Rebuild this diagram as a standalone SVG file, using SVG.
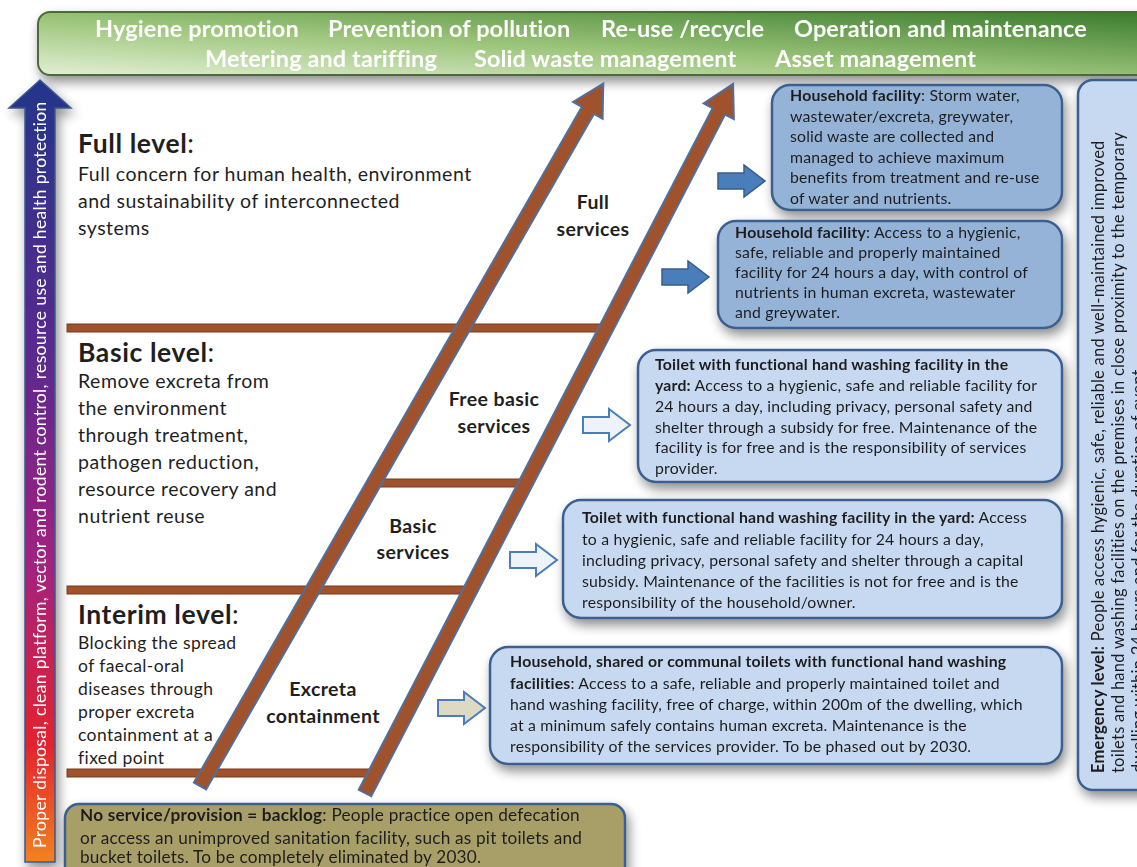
<svg xmlns="http://www.w3.org/2000/svg" width="1137" height="867" viewBox="0 0 1137 867">
<defs>
<style>
text{font-family:Lato,"Liberation Sans",sans-serif;fill:#1f1f1f}
.ban{font-size:23.5px;font-weight:700;fill:#ffffff;letter-spacing:0.1px}
.lvh{font-size:26.5px;font-weight:700;letter-spacing:0.6px}
.lvt{font-size:19.5px;letter-spacing:0.5px}
.lvs{font-size:17.5px;letter-spacing:0.4px}
.svc{font-size:19.5px;font-weight:700;text-anchor:middle;letter-spacing:0.4px}
.bx{font-size:15.8px;letter-spacing:0.2px}
.em{font-size:16.5px;letter-spacing:0.25px}
.bl{font-size:17.2px;letter-spacing:0.2px}
.b{font-weight:700}
.rung{fill:#a0522d;stroke:#7a3a1c;stroke-width:1}
.rail{fill:#a0522d;stroke:#4f6f9c;stroke-width:2}
.boxD{fill:#95b3d7;stroke:#3a5f8f;stroke-width:2.5}
.boxL{fill:#c6d9f0;stroke:#3a5f8f;stroke-width:2.5}
.arD{fill:#4a7ebb;stroke:#385d8a;stroke-width:1.5}
.arL{fill:#eef3fa;stroke:#4a7ebb;stroke-width:2}
.arT{fill:#ddd9c3;stroke:#4a7ebb;stroke-width:2}
</style>
<linearGradient id="gBan" x1="0" y1="1" x2="1" y2="0">
<stop offset="0" stop-color="#e2efd3"/>
<stop offset="0.45" stop-color="#9cc57b"/>
<stop offset="1" stop-color="#3a7b2c"/>
</linearGradient>
<linearGradient id="gArr" x1="0" y1="0" x2="0" y2="1">
<stop offset="0" stop-color="#23358a"/>
<stop offset="0.35" stop-color="#5a2a8e"/>
<stop offset="0.62" stop-color="#a3217f"/>
<stop offset="0.85" stop-color="#e3232e"/>
<stop offset="1" stop-color="#f2821f"/>
</linearGradient>
<filter id="sh" x="-20%" y="-20%" width="140%" height="150%">
<feGaussianBlur in="SourceAlpha" stdDeviation="6"/>
<feOffset dx="3" dy="6" result="o"/>
<feComponentTransfer><feFuncA type="linear" slope="0.45"/></feComponentTransfer>
<feMerge><feMergeNode/><feMergeNode in="SourceGraphic"/></feMerge>
</filter>
<polygon id="blk" points="0,-8 26,-8 26,-16 47,0 26,16 26,8 0,8"/>
</defs>
<rect width="1137" height="867" fill="#ffffff"/>

<g id="banner" filter="url(#sh)">
<rect x="38" y="12" width="1112" height="63" rx="12" fill="url(#gBan)" stroke="#4d6b3c" stroke-width="2"/>
<text class="ban" x="95" y="37">Hygiene promotion</text>
<text class="ban" x="328" y="37">Prevention of pollution</text>
<text class="ban" x="601" y="37">Re-use /recycle</text>
<text class="ban" x="794" y="37">Operation and maintenance</text>
<text class="ban" x="205" y="67">Metering and tariffing</text>
<text class="ban" x="474" y="67">Solid waste management</text>
<text class="ban" x="775" y="67">Asset management</text>
</g>

<g id="left-arrow" filter="url(#sh)">
<polygon points="40,80 71,108 55,108 55,862 25,862 25,108 9,108" fill="url(#gArr)" stroke="#3a5a8a" stroke-width="1.5"/>
<text transform="translate(46,848) rotate(-90)" style="font-size:17.5px;letter-spacing:0.35px;fill:#ffffff">Proper disposal, clean platform, vector and rodent control, resource use and health protection</text>
</g>

<g id="emergency" filter="url(#sh)">
<rect x="1078" y="80" width="80" height="710" rx="15" class="boxL"/>
<text class="em" transform="translate(1104,773) rotate(-90)"><tspan class="b">Emergency level:</tspan> People access hygienic, safe, reliable and well-maintained improved</text>
<text class="em" transform="translate(1124,773) rotate(-90)">toilets and hand washing facilities on the premises in close proximity to the temporary</text>
<text class="em" transform="translate(1144,773) rotate(-90)">dwelling within 24 hours and for the duration of event.</text>
</g>

<g id="levels">
<text class="lvh" x="78" y="153">Full level<tspan style="font-weight:400">:</tspan></text>
<text class="lvt" x="78" y="181">Full concern for human health, environment</text>
<text class="lvt" x="78" y="208">and sustainability of interconnected</text>
<text class="lvt" x="78" y="235">systems</text>
<text class="lvh" x="78" y="362">Basic level<tspan style="font-weight:400">:</tspan></text>
<text class="lvt" x="78" y="388">Remove excreta from</text>
<text class="lvt" x="78" y="415">the environment</text>
<text class="lvt" x="78" y="442">through treatment,</text>
<text class="lvt" x="78" y="469">pathogen reduction,</text>
<text class="lvt" x="78" y="496">resource recovery and</text>
<text class="lvt" x="78" y="523">nutrient reuse</text>
<text class="lvh" x="78" y="624">Interim level<tspan style="font-weight:400">:</tspan></text>
<text class="lvs" x="78" y="649">Blocking the spread</text>
<text class="lvs" x="78" y="672">of faecal-oral</text>
<text class="lvs" x="78" y="695">diseases through</text>
<text class="lvs" x="78" y="718">proper excreta</text>
<text class="lvs" x="78" y="741">containment at a</text>
<text class="lvs" x="78" y="764">fixed point</text>
</g>

<g id="ladder">
<rect class="rung" x="67" y="324" width="538" height="8"/>
<rect class="rung" x="374" y="479" width="152" height="8"/>
<rect class="rung" x="67" y="586" width="405" height="8"/>
<rect class="rung" x="67" y="769" width="306" height="8"/>
<g transform="translate(200,786) rotate(-60.14)"><polygon class="rail" points="0,-7 779,-7 779,-17 810,0 779,17 779,7 0,7"/></g>
<g transform="translate(365,793) rotate(-62.57)"><polygon class="rail" points="0,-7 768,-7 768,-17 799,0 768,17 768,7 0,7"/></g>
</g>

<g id="service-labels">
<text class="svc" x="593" y="209">Full</text>
<text class="svc" x="593" y="236">services</text>
<text class="svc" x="494" y="406">Free basic</text>
<text class="svc" x="494" y="433">services</text>
<text class="svc" x="413" y="533">Basic</text>
<text class="svc" x="413" y="559">services</text>
<text class="svc" x="323" y="696">Excreta</text>
<text class="svc" x="323" y="723">containment</text>
</g>

<g id="connectors">
<use href="#blk" class="arD" x="718" y="181"/>
<use href="#blk" class="arD" x="662" y="277"/>
<use href="#blk" class="arL" x="583" y="425"/>
<use href="#blk" class="arL" x="510" y="560"/>
<use href="#blk" class="arT" x="438" y="708"/>
</g>

<g id="box-full-1" filter="url(#sh)">
<rect x="772" y="85" width="290" height="125" rx="18" class="boxD"/>
<text class="bx" x="790" y="101"><tspan class="b">Household facility</tspan>: Storm water,</text>
<text class="bx" x="790" y="122">wastewater/excreta, greywater,</text>
<text class="bx" x="790" y="142">solid waste are collected and</text>
<text class="bx" x="790" y="163">managed to achieve maximum</text>
<text class="bx" x="790" y="183">benefits from treatment and re-use</text>
<text class="bx" x="790" y="204">of water and nutrients.</text>
</g>

<g id="box-full-2" filter="url(#sh)">
<rect x="718" y="221" width="344" height="107" rx="18" class="boxD"/>
<text class="bx" x="735" y="238"><tspan class="b">Household facility</tspan>: Access to a hygienic,</text>
<text class="bx" x="735" y="258">safe, reliable and properly maintained</text>
<text class="bx" x="735" y="278">facility for 24 hours a day, with control of</text>
<text class="bx" x="735" y="298">nutrients in human excreta, wastewater</text>
<text class="bx" x="735" y="318">and greywater.</text>
</g>

<g id="box-free-basic" filter="url(#sh)">
<rect x="638" y="350" width="424" height="132" rx="18" class="boxL"/>
<text class="bx b" x="655" y="370">Toilet with functional hand washing facility in the</text>
<text class="bx" x="655" y="391"><tspan class="b">yard:</tspan> Access to a hygienic, safe and reliable facility for</text>
<text class="bx" x="655" y="412">24 hours a day, including privacy, personal safety and</text>
<text class="bx" x="655" y="433">shelter through a subsidy for free. Maintenance of the</text>
<text class="bx" x="655" y="453">facility is for free and is the responsibility of services</text>
<text class="bx" x="655" y="474">provider.</text>
</g>

<g id="box-basic" filter="url(#sh)">
<rect x="563" y="500" width="499" height="118" rx="18" class="boxL"/>
<text class="bx" x="582" y="523"><tspan class="b">Toilet with functional hand washing facility in the yard:</tspan> Access</text>
<text class="bx" x="582" y="545">to a hygienic, safe and reliable facility for 24 hours a day,</text>
<text class="bx" x="582" y="566">including privacy, personal safety and shelter through a capital</text>
<text class="bx" x="582" y="587">subsidy. Maintenance of the facilities is not for free and is the</text>
<text class="bx" x="582" y="608">responsibility of the household/owner.</text>
</g>

<g id="box-interim" filter="url(#sh)">
<rect x="490" y="647" width="572" height="117" rx="18" class="boxL"/>
<text class="bx b" x="510" y="667">Household, shared or communal toilets with functional hand washing</text>
<text class="bx" x="510" y="689"><tspan class="b">facilities</tspan>: Access to a safe, reliable and properly maintained toilet and</text>
<text class="bx" x="510" y="710">hand washing facility, free of charge, within 200m of the dwelling, which</text>
<text class="bx" x="510" y="731">at a minimum safely contains human excreta. Maintenance is the</text>
<text class="bx" x="510" y="752">responsibility of the services provider. To be phased out by 2030.</text>
</g>

<g id="box-backlog" filter="url(#sh)">
<rect x="65" y="804" width="560" height="80" rx="14" fill="#a89f68" stroke="#3a5f8f" stroke-width="2.5"/>
<text class="bl" x="80" y="821"><tspan class="b">No service/provision = backlog</tspan>:  People practice open defecation</text>
<text class="bl" x="80" y="844">or access an unimproved sanitation facility, such as pit toilets and</text>
<text class="bl" x="80" y="863">bucket toilets. To be completely eliminated by 2030.</text>
</g>
</svg>
